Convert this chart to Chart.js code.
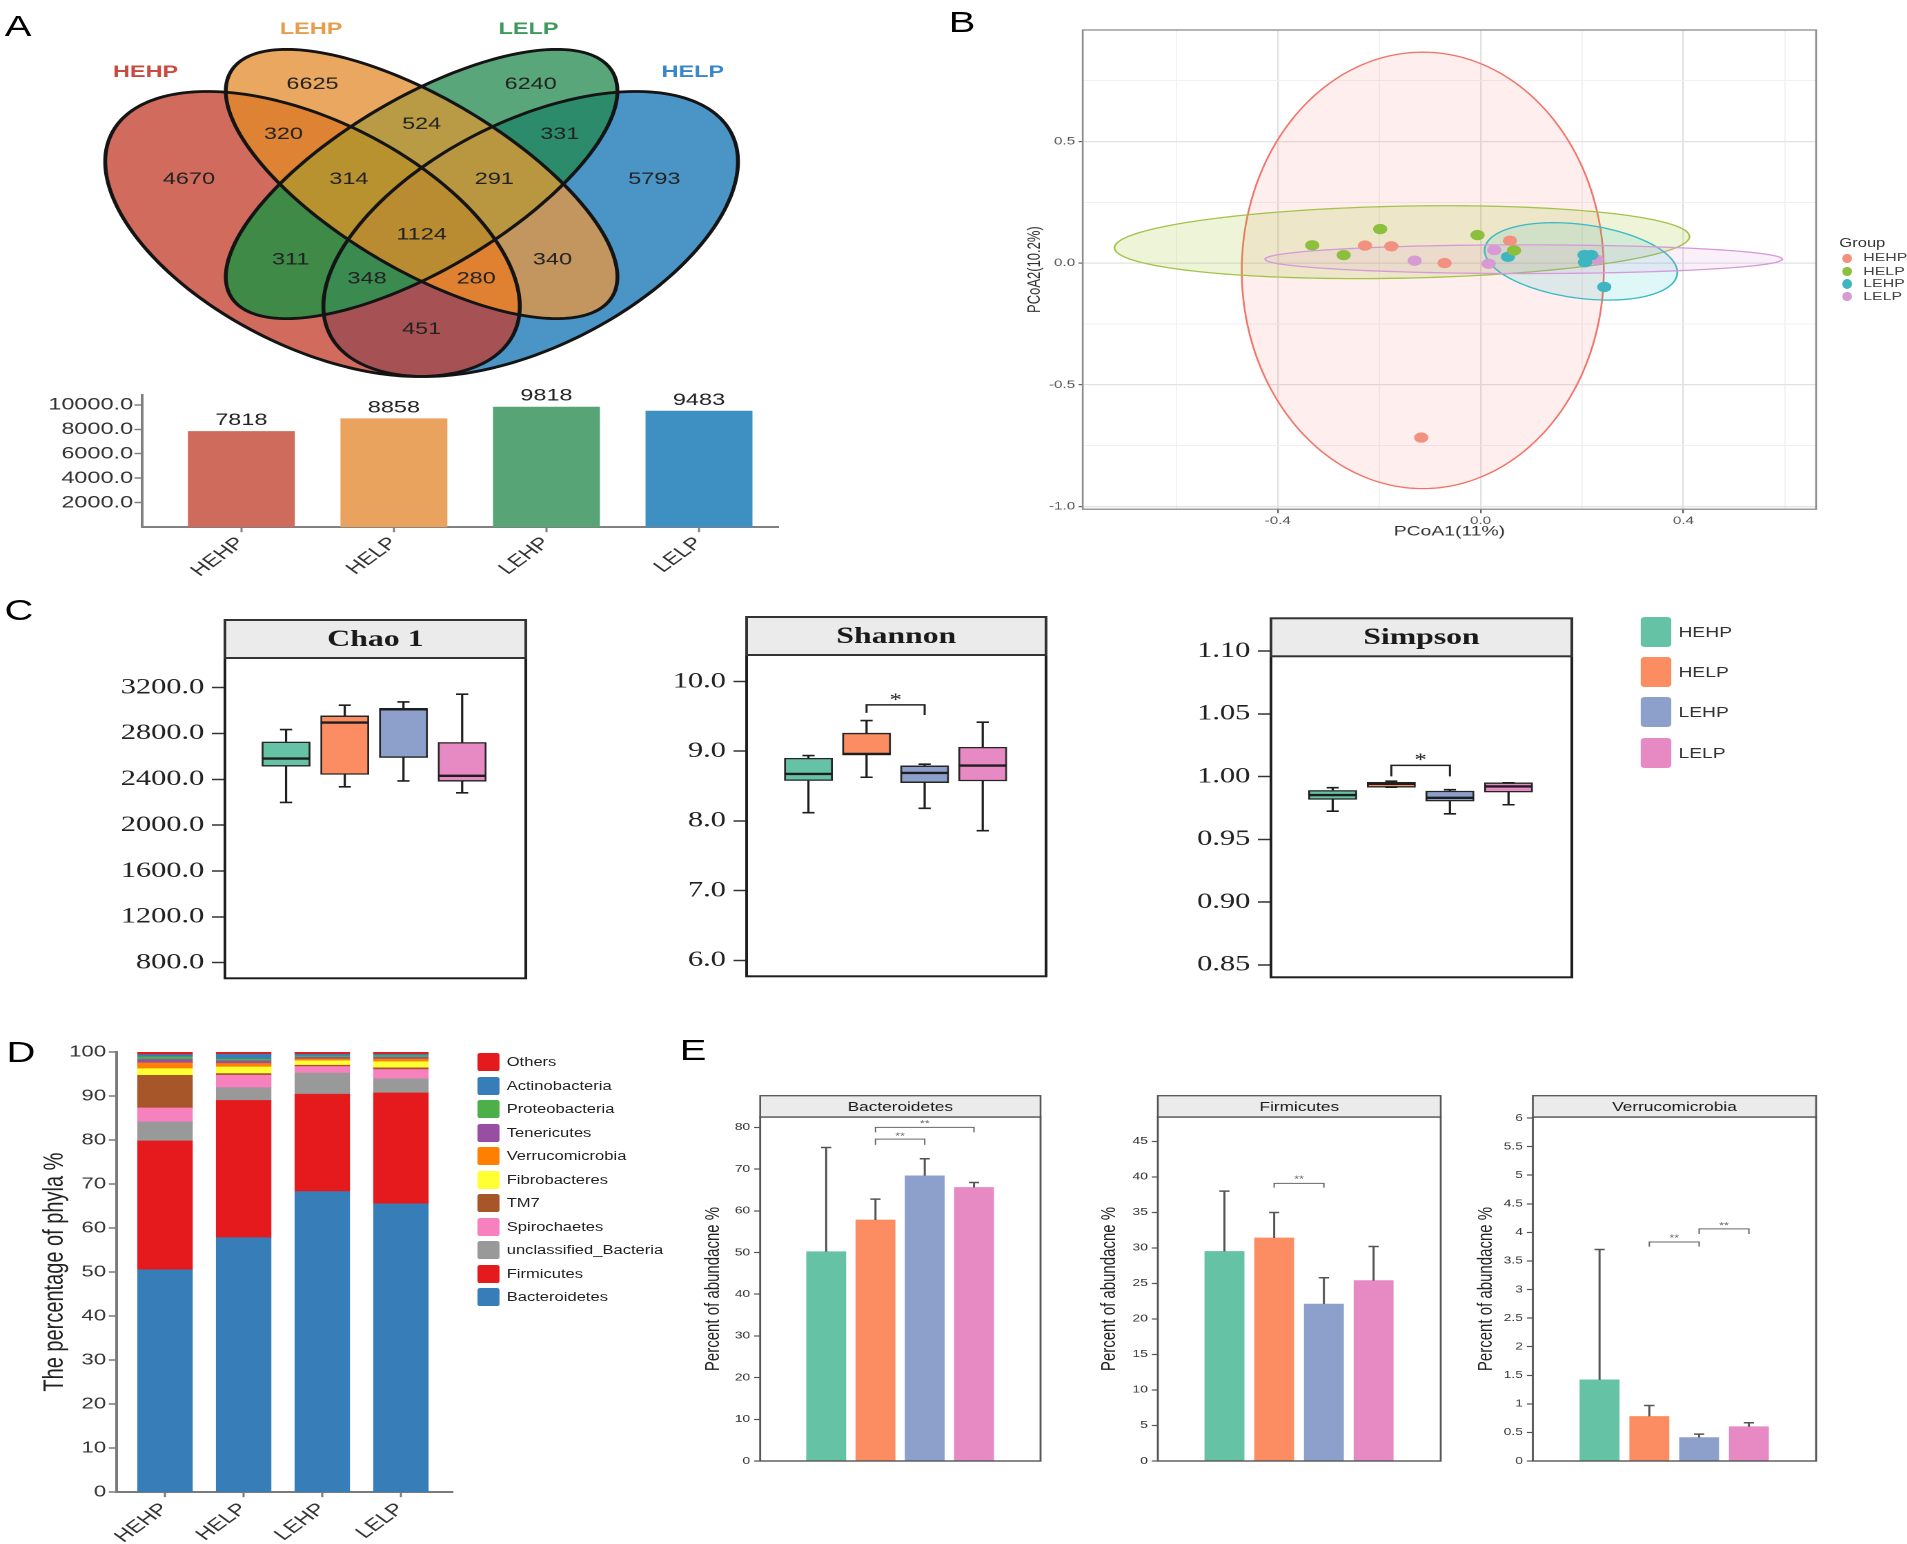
<!DOCTYPE html>
<html><head><meta charset="utf-8">
<script src="https://cdn.jsdelivr.net/npm/chart.js"></script>
<style>
html,body{margin:0;padding:0;background:#fff;overflow:hidden;width:1907px;height:1544px;}
#wrap{position:absolute;left:0;top:0;width:1382px;height:1544px;transform:scaleX(1.38);transform-origin:0 0;}
canvas{position:absolute;}
.t{position:absolute;white-space:nowrap;font-family:'Liberation Sans',Arial,sans-serif;color:#222;line-height:1;}
.b{position:absolute;}
</style></head><body><div id="wrap"></div>
<script>
// ================= DATA =================
const groups = ['HEHP', 'HELP', 'LEHP', 'LELP'];
// Panel A - Venn
const vennSetNames = ['HEHP', 'LEHP', 'LELP', 'HELP'];
const vennRegionCounts = [6625, 6240, 320, 524, 331, 4670, 314, 291, 5793, 1124, 311, 340, 348, 280, 451];
// Panel A - bar
const otuCounts = [7818, 8858, 9818, 9483];
const otuTicks = [2000, 4000, 6000, 8000, 10000];
// Panel B - PCoA coordinates [PCoA1, PCoA2]
const pcoaHEHP = [[-0.228, 0.072], [-0.176, 0.069], [-0.071, 0.000], [0.058, 0.092], [-0.117, -0.717]];
const pcoaHELP = [[-0.332, 0.073], [-0.270, 0.033], [-0.198, 0.140], [-0.006, 0.115], [0.066, 0.052]];
const pcoaLEHP = [[0.054, 0.026], [0.205, 0.033], [0.218, 0.033], [0.206, 0.003], [0.244, -0.098]];
const pcoaLELP = [[-0.130, 0.010], [0.027, 0.054], [0.016, -0.003], [0.229, 0.014]];
// confidence ellipses: centre, semi-axis vectors
const ellHEHP = {c: [-0.114, -0.030], A: [0.357, 0], B: [0, 0.897]};
const ellHELP = {c: [-0.155, 0.086], A: [0.567, 0.023], B: [0, 0.148]};
const ellLEHP = {c: [0.198, 0.007], A: [0.190, -0.045], B: [0, 0.1526]};
const ellLELP = {c: [0.085, 0.016], A: [0.510, 0], B: [0, 0.059]};
// Panel C - boxplots [min, q1, median, q3, max]
const chao1Box = [[2198, 2514, 2581, 2726, 2834], [2334, 2442, 2895, 2953, 3046], [2386, 2590, 3011, 3017, 3075], [2282, 2383, 2430, 2721, 3142]];
const shannonBox = [[8.118, 8.578, 8.674, 8.900, 8.937], [8.626, 8.947, 8.961, 9.259, 9.440], [8.180, 8.549, 8.688, 8.789, 8.813], [7.859, 8.573, 8.793, 9.057, 9.416]];
const simpsonBox = [[0.9724, 0.9817, 0.9852, 0.9889, 0.9911], [0.9915, 0.9915, 0.9942, 0.9955, 0.9963], [0.9703, 0.9804, 0.9830, 0.9884, 0.9895], [0.9775, 0.9876, 0.9921, 0.9950, 0.9950]];
const chao1Ticks = [800, 1200, 1600, 2000, 2400, 2800, 3200];
const shannonTicks = [6, 7, 8, 9, 10];
const simpsonTicks = [0.85, 0.90, 0.95, 1.00, 1.05, 1.10];
// Panel D - phyla (bottom to top)
const phyla = ['Bacteroidetes', 'Firmicutes', 'unclassified_Bacteria', 'Spirochaetes', 'TM7', 'Fibrobacteres', 'Verrucomicrobia', 'Tenericutes', 'Proteobacteria', 'Actinobacteria', 'Others'];
const phylaHEHP = [50.5, 29.3, 4.3, 3.2, 7.4, 1.5, 1.3, 0.8, 0.6, 0.5, 0.6];
const phylaHELP = [57.8, 31.2, 2.9, 2.8, 0.4, 1.5, 0.8, 0.6, 0.4, 1.1, 0.5];
const phylaLEHP = [68.3, 22.1, 4.8, 1.5, 0.3, 1.0, 0.4, 0.4, 0.3, 0.4, 0.5];
const phylaLELP = [65.5, 25.2, 3.2, 2.1, 0.4, 1.4, 0.6, 0.4, 0.4, 0.3, 0.5];
const phylaTicks = [0, 10, 20, 30, 40, 50, 60, 70, 80, 90, 100];
// Panel E - mean and mean+SD
const bactMean = [50.2, 57.8, 68.4, 65.6], bactUpper = [75.2, 62.8, 72.5, 66.8];
const firmMean = [29.5, 31.4, 22.1, 25.4], firmUpper = [38.0, 35.0, 25.8, 30.2];
const verrMean = [1.42, 0.78, 0.41, 0.60], verrUpper = [3.70, 0.97, 0.47, 0.67];
const bactTicks = [0, 10, 20, 30, 40, 50, 60, 70, 80];
const firmTicks = [0, 5, 10, 15, 20, 25, 30, 35, 40, 45];
const verrTicks = [0, 0.5, 1, 1.5, 2, 2.5, 3, 3.5, 4, 4.5, 5, 5.5, 6];
// significance brackets (data units)
const shannonSig = [{x1: 1, x2: 2, top: 9.665, l1: 9.55, l2: 9.52, ty: 9.78, text: '*'}];
const simpsonSig = [{x1: 1, x2: 2, top: 1.0089, l1: 1.0001, l2: 1.0001, ty: 1.0155, text: '*'}];
const bactSig = [{x1: 1, x2: 2, top: 77.2, l1: 75.8, l2: 75.8, ty: 78.5, text: '**'}, {x1: 1, x2: 3, top: 80.0, l1: 78.8, l2: 78.8, ty: 81.4, text: '**'}];
const firmSig = [{x1: 1, x2: 2, top: 39.1, l1: 38.5, l2: 38.5, ty: 40.0, text: '**'}];
const verrSig = [{x1: 1, x2: 2, top: 3.83, l1: 3.75, l2: 3.75, ty: 3.94, text: '**'}, {x1: 2, x2: 3, top: 4.06, l1: 3.97, l2: 3.97, ty: 4.16, text: '**'}];

// ================= LAYOUT / STYLE =================
const vennEllipses = [
  {c: [0.35, 0.47], a: 0.35, b: 0.20, rot: 135},
  {c: [0.50, 0.57], a: 0.35, b: 0.15, rot: 135},
  {c: [0.50, 0.57], a: 0.35, b: 0.15, rot: 45},
  {c: [0.65, 0.47], a: 0.35, b: 0.20, rot: 45}
];
const vennLabelXY = [[0.35, 0.769], [0.65, 0.769], [0.31, 0.669], [0.5, 0.689], [0.69, 0.669], [0.18, 0.579], [0.40, 0.579], [0.60, 0.579], [0.82, 0.579], [0.5, 0.4685], [0.32, 0.418], [0.68, 0.418], [0.425, 0.38], [0.575, 0.38], [0.5, 0.279]];
const vennRegionColors = ['#EAA75F', '#58A679', '#DE8234', '#B99B45', '#2B8B6A', '#D16B5E', '#B8922F', '#B99640', '#4B94C6', '#B98C31', '#3F8A47', '#C4965F', '#3B8A50', '#DF8131', '#A65254'];
const vennNameXY = [[0.1205, 0.793], [0.348, 0.879], [0.647, 0.879], [0.873, 0.793]];
const vennNameColors = ['#C94A3E', '#E99C4C', '#3D9A5D', '#3A87C7'];
const otuBarColors = ['#CF6B5C', '#E9A35E', '#57A477', '#3E90C3'];
const pcoaColors = ['#F2917F', '#8DBF3E', '#3DB6C2', '#D79AD3'];
const pcoaFill = ['rgba(248,118,109,0.12)', 'rgba(160,196,40,0.18)', 'rgba(0,191,196,0.12)', 'rgba(214,140,214,0.13)'];
const pcoaStroke = ['#F07367', '#A3C44A', '#3CB9C5', '#D69AD8'];
const groupColors = ['#66C2A5', '#FC8D62', '#8DA0CB', '#E78AC3'];
const phylaColors = ['#377EB8', '#E41A1C', '#999999', '#F781BF', '#A65628', '#FFFF33', '#FF7F00', '#984EA3', '#4DAF4A', '#377EB8', '#E41A1C'];

const S = 1.38;               // horizontal stretch of the whole figure
const X = v => v / S;
const wrap = document.getElementById('wrap');
const SANS = "'Liberation Sans', Arial, sans-serif";
const SERIF = "'Liberation Serif', 'Times New Roman', serif";
Chart.defaults.font.family = SANS;
Chart.defaults.color = '#333';
Chart.defaults.plugins.legend.display = false;
Chart.defaults.plugins.tooltip.enabled = false;

function tk(arr) { return s => { s.ticks = arr.map(v => ({value: v})); }; }
function make(cfg, A, plugins) {
  const c = document.createElement('canvas');
  const w = Math.round(X(A.r - A.l) + 220), h = Math.round(A.b - A.t + 160);
  c.width = w; c.height = h; c.style.width = w + 'px'; c.style.height = h + 'px';
  wrap.appendChild(c);
  cfg.options = Object.assign({responsive: false, maintainAspectRatio: false, animation: false, devicePixelRatio: 2, events: []}, cfg.options || {});
  cfg.plugins = plugins || [];
  const ch = new Chart(c, cfg);
  const wantW = X(A.r - A.l), wantH = A.b - A.t;
  for (let i = 0; i < 5; i++) {
    const a = ch.chartArea;
    const dw = wantW - (a.right - a.left), dh = wantH - (a.bottom - a.top);
    if (Math.abs(dw) < 0.6 && Math.abs(dh) < 0.6) break;
    ch.resize(Math.round(ch.width + dw), Math.round(ch.height + dh));
  }
  const a = ch.chartArea;
  c.style.left = (X(A.l) - a.left) + 'px';
  c.style.top = (A.t - a.top) + 'px';
  return ch;
}
function txt(s, x, y, css) {
  const d = document.createElement('div'); d.className = 't'; d.textContent = s;
  d.style.left = X(x) + 'px'; d.style.top = y + 'px';
  Object.assign(d.style, css || {}); wrap.appendChild(d); return d;
}
function rectDiv(x, y, w, h, color, r) {
  const d = document.createElement('div'); d.className = 'b';
  Object.assign(d.style, {left: X(x) + 'px', top: y + 'px', width: X(w) + 'px', height: h + 'px', background: color, borderRadius: r});
  wrap.appendChild(d);
}
function framePlugin(color, width) {
  return {id: 'frame', afterDraw(ch) {
    const {ctx, chartArea: a} = ch; ctx.save(); ctx.strokeStyle = color; ctx.lineWidth = width;
    ctx.strokeRect(a.left, a.top, a.right - a.left, a.bottom - a.top); ctx.restore();
  }};
}
function stripPlugin(text, h, off, font, border, bw) {
  return {id: 'strip', afterDraw(ch) {
    const {ctx, chartArea: a} = ch; const bot = a.top + off, top = bot - h;
    ctx.save(); ctx.fillStyle = '#EBEBEB'; ctx.fillRect(a.left, top, a.right - a.left, h);
    ctx.strokeStyle = border; ctx.lineWidth = bw; ctx.strokeRect(a.left, top, a.right - a.left, h);
    ctx.fillStyle = '#1a1a1a'; ctx.font = font; ctx.textAlign = 'center'; ctx.textBaseline = 'middle';
    ctx.fillText(text, (a.left + a.right) / 2, (top + bot) / 2 + 1); ctx.restore();
  }};
}
function boxPlugin(box) {
  return {id: 'whisk', afterDatasetsDraw(ch) {
    const {ctx, scales: {x, y}} = ch; const meta = ch.getDatasetMeta(0); const cap = 4.4;
    ctx.save(); ctx.strokeStyle = '#1e1e1e';
    box.forEach((b, i) => {
      const px = x.getPixelForValue(i), half = meta.data[i].width / 2;
      ctx.lineWidth = 1.6; ctx.beginPath();
      ctx.moveTo(px, y.getPixelForValue(b[3])); ctx.lineTo(px, y.getPixelForValue(b[4]));
      ctx.moveTo(px, y.getPixelForValue(b[1])); ctx.lineTo(px, y.getPixelForValue(b[0]));
      ctx.moveTo(px - cap, y.getPixelForValue(b[4])); ctx.lineTo(px + cap, y.getPixelForValue(b[4]));
      ctx.moveTo(px - cap, y.getPixelForValue(b[0])); ctx.lineTo(px + cap, y.getPixelForValue(b[0]));
      ctx.stroke();
      ctx.lineWidth = 2.4; ctx.beginPath();
      ctx.moveTo(px - half, y.getPixelForValue(b[2])); ctx.lineTo(px + half, y.getPixelForValue(b[2])); ctx.stroke();
    });
    ctx.restore();
  }};
}
function bracketPlugin(list, color, lw, font, size, k) {
  return {id: 'brk', afterDatasetsDraw(ch) {
    const {ctx, scales: {x, y}} = ch;
    ctx.save(); ctx.strokeStyle = color; ctx.fillStyle = color; ctx.lineWidth = lw;
    ctx.font = font; ctx.textAlign = 'center'; ctx.textBaseline = 'alphabetic';
    list.forEach(b => {
      const x1 = x.getPixelForValue(b.x1), x2 = x.getPixelForValue(b.x2), yt = y.getPixelForValue(b.top);
      ctx.beginPath(); ctx.moveTo(x1, y.getPixelForValue(b.l1)); ctx.lineTo(x1, yt); ctx.lineTo(x2, yt);
      ctx.lineTo(x2, y.getPixelForValue(b.l2)); ctx.stroke();
      ctx.fillText(b.text, (x1 + x2) / 2, y.getPixelForValue(b.ty) + k * size);
    });
    ctx.restore();
  }};
}
function errPlugin(mean, upper) {
  return {id: 'err', afterDatasetsDraw(ch) {
    const {ctx, scales: {x, y}} = ch; const cap = 3.7;
    ctx.save(); ctx.strokeStyle = '#555'; ctx.lineWidth = 1.5; ctx.beginPath();
    mean.forEach((m, i) => {
      const px = x.getPixelForValue(i), yu = y.getPixelForValue(upper[i]);
      ctx.moveTo(px, y.getPixelForValue(m)); ctx.lineTo(px, yu);
      ctx.moveTo(px - cap, yu); ctx.lineTo(px + cap, yu);
    });
    ctx.stroke(); ctx.restore();
  }};
}

// ================= PANEL A : Venn =================
const vennPlugin = {id: 'venn', afterDatasetsDraw(ch) {
  const {ctx, scales: {x, y}} = ch;
  const P = (u, v) => [x.getPixelForValue(u), y.getPixelForValue(v)];
  const addPath = e => {
    const r = e.rot * Math.PI / 180, cr = Math.cos(r), sr = Math.sin(r);
    for (let i = 0; i <= 200; i++) {
      const t = i / 200 * 2 * Math.PI, u = e.a * Math.cos(t), v = e.b * Math.sin(t);
      const p = P(e.c[0] + u * cr - v * sr, e.c[1] + u * sr + v * cr);
      if (i === 0) ctx.moveTo(p[0], p[1]); else ctx.lineTo(p[0], p[1]);
    }
    ctx.closePath();
  };
  const inside = (e, px, py) => {
    const r = e.rot * Math.PI / 180, dx = px - e.c[0], dy = py - e.c[1];
    const u = dx * Math.cos(r) + dy * Math.sin(r), v = -dx * Math.sin(r) + dy * Math.cos(r);
    return (u / e.a) ** 2 + (v / e.b) ** 2 <= 1;
  };
  const W = ch.width, H = ch.height;
  vennLabelXY.forEach((p, k) => {
    ctx.save();
    vennEllipses.forEach(e => {
      ctx.beginPath();
      if (inside(e, p[0], p[1])) { addPath(e); ctx.clip(); }
      else { ctx.rect(-10, -10, W + 20, H + 20); addPath(e); ctx.clip('evenodd'); }
    });
    ctx.fillStyle = vennRegionColors[k]; ctx.fillRect(-10, -10, W + 20, H + 20);
    ctx.restore();
  });
  ctx.save(); ctx.strokeStyle = '#141414'; ctx.lineWidth = 2.8; ctx.lineJoin = 'round';
  vennEllipses.forEach(e => { ctx.beginPath(); addPath(e); ctx.stroke(); });
  ctx.fillStyle = '#222'; ctx.font = '17px ' + SANS; ctx.textAlign = 'center'; ctx.textBaseline = 'middle';
  vennLabelXY.forEach((p, k) => { const q = P(p[0], p[1]); ctx.fillText(String(vennRegionCounts[k]), q[0], q[1]); });
  ctx.font = 'bold 17px ' + SANS;
  vennNameXY.forEach((p, k) => { const q = P(p[0], p[1]); ctx.fillStyle = vennNameColors[k]; ctx.fillText(vennSetNames[k], q[0], q[1]); });
  ctx.restore();
}};
make({type: 'scatter', data: {datasets: []},
  options: {layout: {padding: 10}, scales: {x: {type: 'linear', min: 0, max: 1, display: false}, y: {type: 'linear', min: 0.15, max: 0.9, display: false}}}},
  {l: 57.4, r: 784.4, t: 469 - 0.9 * 499.5, b: 469 - 0.15 * 499.5}, [vennPlugin]);

// ================= PANEL A : bar =================
const valueLabels = {id: 'vlab', afterDatasetsDraw(ch) {
  const {ctx} = ch; const meta = ch.getDatasetMeta(0);
  ctx.save(); ctx.fillStyle = '#222'; ctx.font = '17px ' + SANS; ctx.textAlign = 'center'; ctx.textBaseline = 'alphabetic';
  meta.data.forEach((el, i) => ctx.fillText(String(otuCounts[i]), el.x, el.y - 6.3));
  ctx.restore();
}};
make({type: 'bar', data: {datasets: [{data: otuCounts.map((v, i) => ({x: i, y: v})), backgroundColor: otuBarColors, borderWidth: 0, barThickness: X(106)}]},
  options: {layout: {padding: {top: 30, right: 10, left: 0, bottom: 0}},
    scales: {
      x: {type: 'linear', min: -0.648, max: 3.52, offset: false, afterBuildTicks: tk([0, 1, 2, 3]),
        ticks: {autoSkip: false, minRotation: 45, maxRotation: 45, padding: 1, font: {size: 17}, color: '#333', callback: v => groups[v]},
        grid: {offset: false, drawOnChartArea: false, tickLength: 5, tickWidth: 1.5, tickColor: '#808080'}, border: {display: true, color: '#808080', width: 2}},
      y: {min: 0, max: 10800, afterBuildTicks: tk(otuTicks),
        ticks: {padding: 1, font: {size: 17}, color: '#333', callback: v => v.toFixed(1)},
        grid: {drawOnChartArea: false, tickLength: X(8), tickWidth: 1.5, tickColor: '#808080'}, border: {display: true, color: '#808080', width: 2}}
    }}},
  {l: 142, r: 778, t: 395, b: 527}, [valueLabels]);

// ================= PANEL B : PCoA =================
const isIn = (v, arr) => arr.some(a => Math.abs(a - v) < 1e-6);
const fmt1 = v => (Math.abs(v) < 1e-9 ? 0 : v).toFixed(1);
const pcoaEllipses = [ellHEHP, ellHELP, ellLEHP, ellLELP];
const pcoaEllPlugin = {id: 'pell', beforeDatasetsDraw(ch) {
  const {ctx, chartArea: a, scales: {x, y}} = ch;
  ctx.save(); ctx.beginPath(); ctx.rect(a.left, a.top, a.right - a.left, a.bottom - a.top); ctx.clip();
  pcoaEllipses.forEach((e, k) => {
    ctx.beginPath();
    for (let i = 0; i <= 200; i++) {
      const t = i / 200 * 2 * Math.PI, co = Math.cos(t), si = Math.sin(t);
      const px = x.getPixelForValue(e.c[0] + e.A[0] * co + e.B[0] * si);
      const py = y.getPixelForValue(e.c[1] + e.A[1] * co + e.B[1] * si);
      if (i === 0) ctx.moveTo(px, py); else ctx.lineTo(px, py);
    }
    ctx.closePath(); ctx.fillStyle = pcoaFill[k]; ctx.fill();
    ctx.strokeStyle = pcoaStroke[k]; ctx.lineWidth = 1.3; ctx.stroke();
  });
  ctx.restore();
}};
const pc = arr => arr.map(p => ({x: p[0], y: p[1]}));
const xMaj = [-0.4, 0, 0.4], yMaj = [-1, -0.5, 0, 0.5];
make({type: 'scatter', data: {datasets: [
    {data: pc(pcoaHEHP), backgroundColor: pcoaColors[0]},
    {data: pc(pcoaHELP), backgroundColor: pcoaColors[1]},
    {data: pc(pcoaLEHP), backgroundColor: pcoaColors[2]},
    {data: pc(pcoaLELP), backgroundColor: pcoaColors[3]}]},
  options: {elements: {point: {radius: 5.2, borderWidth: 0}}, layout: {padding: {top: 10, right: 10, left: 0, bottom: 0}},
    scales: {
      x: {type: 'linear', min: -0.7846, max: 0.6617, afterBuildTicks: tk([-0.6, -0.4, -0.2, 0, 0.2, 0.4, 0.6]),
        afterFit: s => { s.height = 34.8; },
        ticks: {autoSkip: false, maxRotation: 0, padding: 1, font: {size: 11}, color: '#555', callback: v => isIn(v, xMaj) ? fmt1(v) : ''},
        grid: {color: c => isIn(c.tick.value, xMaj) ? '#E2E2E2' : '#F1F1F1', lineWidth: c => isIn(c.tick.value, xMaj) ? 1.2 : 0.9,
          tickLength: 4, tickColor: c => isIn(c.tick.value, xMaj) ? '#666' : 'rgba(0,0,0,0)'},
        border: {display: false}, title: {display: true, text: 'PCoA1(11%)', font: {size: 14}, color: '#333', padding: {top: 4, bottom: 4}}},
      y: {type: 'linear', min: -1.0115, max: 0.958, afterBuildTicks: tk([-1, -0.75, -0.5, -0.25, 0, 0.25, 0.5, 0.75]),
        afterFit: s => { s.width = X(1083 - 1035) + 4 + 13 * 1.2 / 2; },
        ticks: {autoSkip: false, padding: 2.5, font: {size: 11}, color: '#555', callback: v => isIn(v, yMaj) ? fmt1(v) : ''},
        grid: {color: c => isIn(c.tick.value, yMaj) ? '#E2E2E2' : '#F1F1F1', lineWidth: c => isIn(c.tick.value, yMaj) ? 1.2 : 0.9,
          tickLength: 3, tickColor: c => isIn(c.tick.value, yMaj) ? '#666' : 'rgba(0,0,0,0)'},
        border: {display: false}, title: {display: true, text: 'PCoA2(10.2%)', font: {size: 13}, color: '#333', padding: {top: 4, bottom: 4}}}
    }}},
  {l: 1083, r: 1816.7, t: 30.3, b: 509.6}, [pcoaEllPlugin, framePlugin('#8C8C8C', 1.3)]);
// PCoA legend
txt('Group', 1839.3, 242.5, {fontSize: '12px', color: '#333', transform: 'translateY(-50%)'});
[258.3, 271.7, 284, 296.7].forEach((yy, i) => {
  rectDiv(1846.7 - 4.8, yy - 4.8, 9.6, 9.6, pcoaColors[i], '50%');
  txt(groups[i], 1863.3, yy, {fontSize: '11.5px', color: '#444', transform: 'translateY(-50%)'});
});

// ================= PANEL C : boxplots =================
function boxChart(box, A, yMin, yMax, ticks, dec, xMin, xMax, title, stripOff, sig) {
  return make({type: 'bar', data: {datasets: [{data: box.map((b, i) => ({x: i, y: [b[1], b[3]]})), backgroundColor: groupColors,
      borderColor: '#262626', borderWidth: 1.4, borderSkipped: false, barThickness: X(48)}]},
    options: {layout: {padding: {top: 50, right: 8, bottom: 8, left: 0}},
      scales: {
        x: {type: 'linear', min: xMin, max: xMax, display: false, offset: false, grid: {offset: false}},
        y: {min: yMin, max: yMax, afterBuildTicks: tk(ticks),
          ticks: {padding: 5.5, font: {family: SERIF, size: 22}, color: '#222', callback: v => v.toFixed(dec)},
          grid: {drawOnChartArea: false, tickLength: 9.5, tickWidth: 1.5, tickColor: '#333'}, border: {display: false}}
      }}},
    A, [boxPlugin(box), bracketPlugin(sig, '#222', 1.5, '18px ' + SERIF, 18, 0.48), framePlugin('#1f1f1f', 2),
        stripPlugin(title, 38, stripOff, 'bold 23px ' + SERIF, '#333', 2)]);
}
boxChart(chao1Box, {l: 224.5, r: 525.7, t: 657.7, b: 978.3}, 664, 3458, chao1Ticks, 1, -1.041, 4.084, 'Chao 1', 0, []);
boxChart(shannonBox, {l: 747, r: 1047, t: 655, b: 976}, 5.77, 10.38, shannonTicks, 1, -1.065, 4.09, 'Shannon', 0, shannonSig);
boxChart(simpsonBox, {l: 1271.3, r: 1572.7, t: 650.7, b: 976.7}, 0.84, 1.10, simpsonTicks, 2, -1.053, 4.08, 'Simpson', 5.3, simpsonSig);
// C legend
[616.7, 656.7, 697.3, 737.7].forEach((yy, i) => {
  rectDiv(1641.3, yy, 30, 30, groupColors[i], '3px');
  txt(groups[i], 1678.4, yy + 15, {fontSize: '14px', color: '#333', transform: 'translateY(-50%)'});
});

// ================= PANEL D : stacked bars =================
make({type: 'bar', data: {datasets: phyla.map((p, k) => ({label: p,
    data: [phylaHEHP[k], phylaHELP[k], phylaLEHP[k], phylaLELP[k]].map((v, i) => ({x: i, y: v})),
    backgroundColor: phylaColors[k], borderWidth: 0, barThickness: X(54.5)}))},
  options: {layout: {padding: {top: 14, right: 10, bottom: 0, left: 0}},
    scales: {
      x: {type: 'linear', stacked: true, min: -0.618, max: 3.658, offset: false, afterBuildTicks: tk([0, 1, 2, 3]),
        ticks: {autoSkip: false, minRotation: 45, maxRotation: 45, padding: 2, font: {size: 17}, color: '#333', callback: v => groups[v]},
        grid: {offset: false, drawOnChartArea: false, tickLength: 5, tickWidth: 1.5, tickColor: '#7a7a7a'}, border: {display: true, color: '#7a7a7a', width: 2}},
      y: {stacked: true, min: 0, max: 100, afterBuildTicks: tk(phylaTicks),
        afterFit: s => { s.width = X(117 - 55.8) + 4 + 12; },
        ticks: {padding: 2, font: {size: 16}, color: '#333', callback: v => String(v)},
        grid: {drawOnChartArea: false, tickLength: X(7.6), tickWidth: 1.5, tickColor: '#7a7a7a'}, border: {display: true, color: '#7a7a7a', width: 2},
        title: {display: true, text: 'The percentage of phyla %', font: {size: 20}, color: '#222', padding: {top: 4, bottom: 4}}}
    }}},
  {l: 117, r: 453, t: 1051.7, b: 1491.7});
// D legend (top to bottom)
[1062.3, 1086, 1109.3, 1132.7, 1156.3, 1180, 1203.3, 1226.7, 1250.3, 1273.7, 1297].forEach((yy, j) => {
  const k = phyla.length - 1 - j;
  rectDiv(476.8, yy - 9.2, 23.2, 18.4, phylaColors[k], '2px');
  txt(phyla[k], 506.7, yy, {fontSize: '12px', color: '#222', transform: 'translateY(-50%)'});
});

// ================= PANEL E : bars with error =================
function eChart(mean, upper, A, yMax, ticks, title, titleX, sig) {
  const lh = 15 * 1.2;
  return make({type: 'bar', data: {datasets: [{data: mean.map((v, i) => ({x: i, y: v})), backgroundColor: groupColors, borderWidth: 0, barThickness: X(39)}]},
    options: {layout: {padding: {top: 30, right: 8, bottom: 10, left: 0}},
      scales: {
        x: {type: 'linear', min: -1.34, max: 4.35, display: false, offset: false, grid: {offset: false}},
        y: {min: 0, max: yMax, afterBuildTicks: tk(ticks), afterFit: s => { s.width = X(A.l - titleX) + 4 + lh / 2; },
          ticks: {padding: X(4), font: {size: 10}, color: '#333', callback: v => String(v)},
          grid: {drawOnChartArea: false, tickLength: X(6), tickWidth: 1.2, tickColor: '#555'}, border: {display: false},
          title: {display: true, text: 'Percent of abundacne %', font: {size: 15}, color: '#222', padding: {top: 4, bottom: 4}}}
      }}},
    A, [errPlugin(mean, upper), bracketPlugin(sig, '#666', 1, '9px ' + SANS, 9, 0.57), framePlugin('#555', 1.4),
        stripPlugin(title, 21.3, 0, '12.5px ' + SANS, '#555', 1.3)]);
}
eChart(bactMean, bactUpper, {l: 760, r: 1040, t: 1117.3, b: 1461.3}, 82.5, bactTicks, 'Bacteroidetes', 713.3, bactSig);
eChart(firmMean, firmUpper, {l: 1158.3, r: 1440.7, t: 1117.3, b: 1461.5}, 48.44, firmTicks, 'Firmicutes', 1110, firmSig);
eChart(verrMean, verrUpper, {l: 1533.3, r: 1816, t: 1117.3, b: 1461}, 6.0175, verrTicks, 'Verrucomicrobia', 1486.7, verrSig);

// ================= Panel letters =================
[['A', 18, 26], ['B', 962, 22], ['C', 19, 610], ['D', 21, 1052], ['E', 693, 1050]].forEach(l => {
  txt(l[0], l[1], l[2], {fontSize: '29px', color: '#000', transform: 'translate(-50%,-50%)'});
});
</script></body></html>
